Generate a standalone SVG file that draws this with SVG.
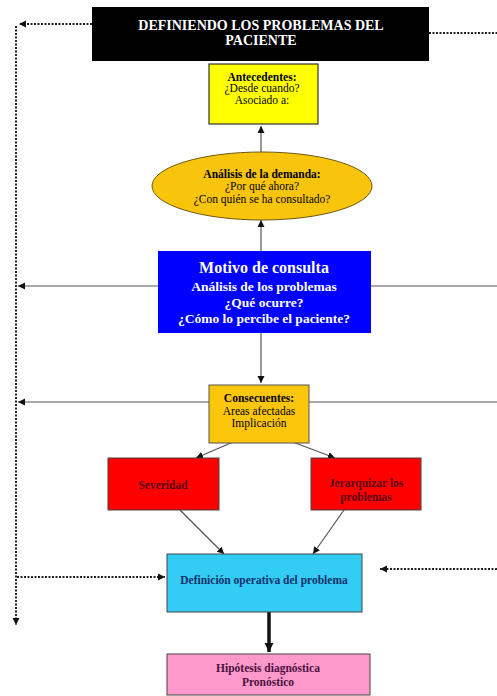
<svg xmlns="http://www.w3.org/2000/svg" width="497" height="696" viewBox="0 0 497 696">
<defs>
<marker id="ah" markerWidth="8" markerHeight="8" refX="7" refY="4" orient="auto" markerUnits="userSpaceOnUse"><path d="M0,0.5 L7,4 L0,7.5 Z" fill="#111"/></marker>
<marker id="ahb" markerWidth="10" markerHeight="10" refX="9" refY="5" orient="auto" markerUnits="userSpaceOnUse"><path d="M0,0.5 L9,5 L0,9.5 Z" fill="#111"/></marker>
</defs>
<style>
text{font-family:"Liberation Serif","Times New Roman",serif;text-anchor:middle}
.b{font-weight:bold}
.s{font-size:11.5px}
.ln{stroke:#555;stroke-width:1.2;fill:none}
.dot{stroke:#222;stroke-width:2;stroke-dasharray:2 1.5;fill:none}
.box{stroke:#444;stroke-width:1}
</style>
<rect width="497" height="696" fill="#fff"/>
<g id="connectors">
<path class="dot" d="M92,24 H19" marker-end="url(#ah)"/>
<path class="dot" d="M16,26 V625" marker-end="url(#ah)"/>
<path class="dot" d="M429,33 H497"/>
<path class="ln" d="M261,153 V126" marker-end="url(#ah)"/>
<path class="ln" d="M261,251 V220" marker-end="url(#ah)"/>
<path class="ln" d="M497,286 H18" marker-end="url(#ah)"/>
<path class="ln" d="M261,333 V383" marker-end="url(#ah)"/>
<path class="ln" d="M497,402 H18" marker-end="url(#ah)"/>
<path class="ln" d="M261,430 L196,458" marker-end="url(#ah)"/>
<path class="ln" d="M261,430 L335,458" marker-end="url(#ah)"/>
<path class="ln" d="M180,510 L224,554" marker-end="url(#ah)"/>
<path class="ln" d="M344,510 L313,554" marker-end="url(#ah)"/>
<path class="dot" d="M17,577 H165" marker-end="url(#ah)"/>
<path class="dot" d="M497,569 H380" marker-end="url(#ah)"/>
<path d="M269,612 V652" stroke="#111" stroke-width="3.5" fill="none" marker-end="url(#ahb)"/>
</g>
<g id="header">
<rect x="92" y="7" width="337" height="54" fill="#000"/>
<text x="261" y="30" class="b" font-size="14" fill="#fff">DEFINIENDO LOS PROBLEMAS DEL</text>
<text x="261" y="45" class="b" font-size="14" fill="#fff">PACIENTE</text>
</g>
<g id="antecedentes">
<rect x="209" y="64" width="109" height="60" fill="#ffff00" stroke="#333" stroke-width="1.2"/>
<text x="262" y="81" class="b s">Antecedentes:</text>
<text x="262" y="92" class="s">¿Desde cuando?</text>
<text x="262" y="104" class="s">Asociado a:</text>
</g>
<g id="demanda">
<ellipse cx="262" cy="186" rx="110" ry="34" fill="#f9c40c" stroke="#6b5a10" stroke-width="1"/>
<text x="262" y="178" class="b s">Análisis de la demanda:</text>
<text x="262" y="190" class="s">¿Por qué ahora?</text>
<text x="262" y="203" class="s">¿Con quién se ha consultado?</text>
</g>
<g id="motivo">
<rect x="158" y="251" width="213" height="82" fill="#0000ff"/>
<text x="264" y="273" class="b" font-size="16" fill="#fff">Motivo de consulta</text>
<text x="264" y="291" class="b" font-size="13.5" fill="#fff">Análisis de los problemas</text>
<text x="264" y="307" class="b" font-size="13.5" fill="#fff">¿Qué ocurre?</text>
<text x="264" y="323" class="b" font-size="13.5" fill="#fff">¿Cómo lo percibe el paciente?</text>
</g>
<g id="consecuentes">
<rect x="209" y="385" width="100" height="58" fill="#fcc60c" stroke="#555" stroke-width="1"/>
<text x="259" y="402" class="b s">Consecuentes:</text>
<text x="259" y="415" class="s">Areas afectadas</text>
<text x="259" y="427" class="s">Implicación</text>
</g>
<g id="severidad">
<rect x="108" y="458" width="111" height="52" fill="#ff0000" class="box"/>
<text x="163" y="489" class="b s" fill="#5a0010">Severidad</text>
</g>
<g id="jerarquizar">
<rect x="311" y="458" width="110" height="52" fill="#ff0000" class="box"/>
<text x="366" y="487" class="b s" fill="#5a0010">Jerarquizar los</text>
<text x="366" y="501" class="b s" fill="#5a0010">problemas</text>
</g>
<g id="definicion">
<rect x="167" y="554" width="195" height="58" fill="#33ccf5" class="box"/>
<text x="264" y="584" class="b s" fill="#12306a">Definición operativa del problema</text>
</g>
<g id="hipotesis">
<rect x="167" y="654" width="203" height="41" fill="#ff99cc" class="box"/>
<text x="268" y="672" class="b s" fill="#4a1040">Hipótesis diagnóstica</text>
<text x="268" y="686" class="b s" fill="#4a1040">Pronóstico</text>
</g>
</svg>
